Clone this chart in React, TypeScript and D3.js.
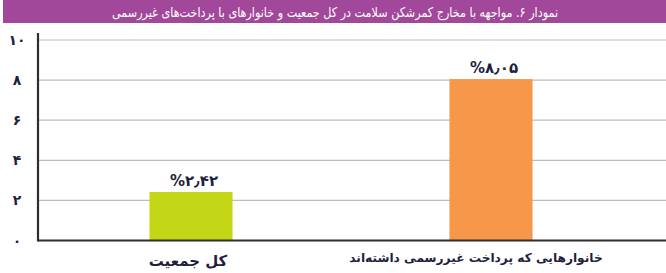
import React from "react";
import * as d3 from "d3";

const title = "نمودار ۶. مواجهه با مخارج کمرشکن سلامت در کل جمعیت و خانوارهای با پرداخت‌های غیررسمی";
const categories = ["کل جمعیت", "خانوارهایی که پرداخت غیررسمی داشته‌اند"];
const values = [2.42, 8.05];
const valueLabels = ["%۲٫۴۲", "%۸٫۰۵"];
const barColors = ["#c4d717", "#f6974a"];
const yTicks = [0, 2, 4, 6, 8, 10];
const yTickLabels = ["۰", "۲", "۴", "۶", "۸", "۱۰"];

const W = 666;
const H = 273;
const FONT = "'DejaVu Sans', sans-serif";

export default function App() {
  const y = d3.scaleLinear().domain([0, 10]).range([240.5, 40]);
  const x = d3
    .scaleBand<string>()
    .domain(categories)
    .range([41, 641])
    .paddingInner(0.723)
    .paddingOuter(0.3615);
  const axisX = 38;
  const labelDx = [-3, -15];
  const labelSize = [15, 12.2];
  const labelY = [266, 262];

  return (
    <svg
      width={W}
      height={H}
      style={{ position: "absolute", left: 0, top: 0, background: "#fff" }}
    >
      <rect x={3} y={0} width={W - 3} height={23} fill="#a2489a" />
      <text
        x={335}
        y={16.5}
        fill="#fff"
        fontFamily={FONT}
        fontSize={13.5}
        textAnchor="middle"
        direction="rtl"
        textLength={446}
        lengthAdjust="spacingAndGlyphs"
      >
        {title}
      </text>

      {yTicks.map((t) =>
        t === 0 ? null : (
          <line
            key={t}
            x1={axisX}
            x2={W}
            y1={y(t)}
            y2={y(t)}
            stroke="#bdbdbd"
            strokeWidth={1.2}
          />
        )
      )}

      {yTicks.map((t, i) => (
        <text
          key={"l" + t}
          x={17}
          y={y(t) + 5}
          fill="#1f1f3f"
          fontFamily={FONT}
          fontWeight="bold"
          fontSize={14}
          textAnchor="middle"
        >
          {yTickLabels[i]}
        </text>
      ))}

      {categories.map((c, i) => (
        <rect
          key={c}
          x={x(c)}
          y={y(values[i])}
          width={x.bandwidth()}
          height={y(0) - y(values[i])}
          fill={barColors[i]}
        />
      ))}

      <line x1={axisX} x2={W} y1={y(0)} y2={y(0)} stroke="#2e2e2e" strokeWidth={2.2} />
      <line x1={axisX} x2={axisX} y1={33} y2={y(0) + 1} stroke="#2e2e2e" strokeWidth={2.2} />

      {categories.map((c, i) => (
        <text
          key={"v" + c}
          x={(x(c) as number) + x.bandwidth() / 2 + 3}
          y={y(values[i]) - 6}
          fill="#1f1f3f"
          fontFamily={FONT}
          fontWeight="bold"
          fontSize={15}
          textAnchor="middle"
          style={{ unicodeBidi: "bidi-override", direction: "ltr" }}
        >
          {valueLabels[i]}
        </text>
      ))}

      {categories.map((c, i) => (
        <text
          key={"c" + c}
          x={(x(c) as number) + x.bandwidth() / 2 + labelDx[i]}
          y={labelY[i]}
          fill="#1f1f3f"
          fontFamily={FONT}
          fontWeight="bold"
          fontSize={labelSize[i]}
          textAnchor="middle"
          direction="rtl"
        >
          {c}
        </text>
      ))}
    </svg>
  );
}
